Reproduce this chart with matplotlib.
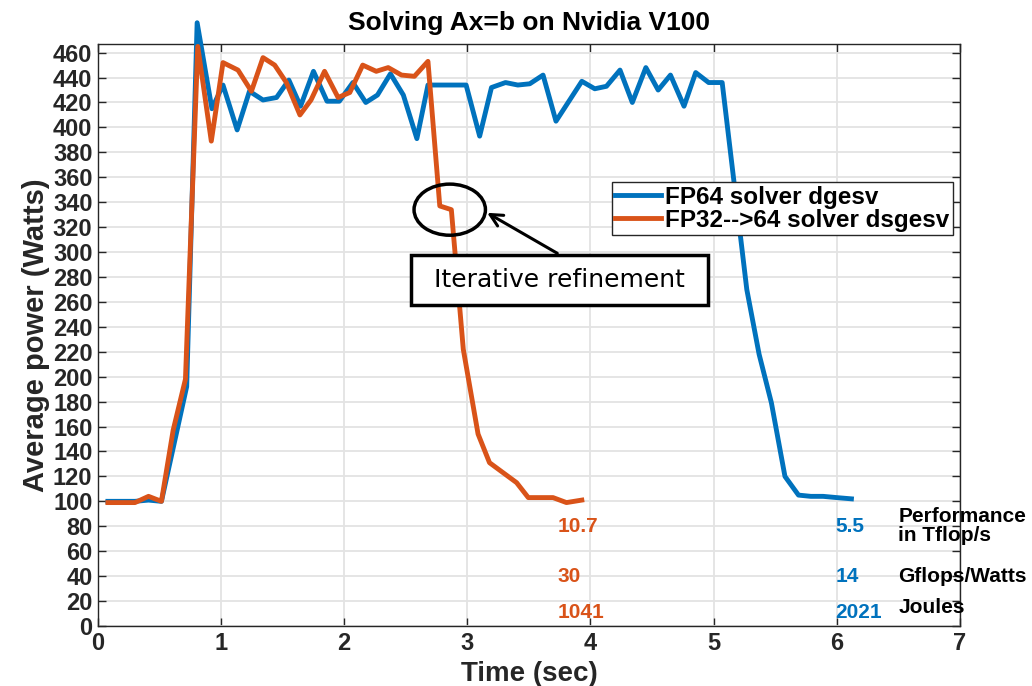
import numpy as np
import matplotlib.pyplot as plt
from matplotlib.patches import Ellipse, Rectangle

# FP64 solver dgesv (blue)
t_fp64 = [0.08, 0.30, 0.41, 0.515, 0.72, 0.805, 0.925, 1.015, 1.13, 1.23, 1.34, 1.45,
          1.55, 1.645, 1.75, 1.86, 1.96, 2.07, 2.175, 2.27, 2.375, 2.48, 2.59, 2.68,
          2.99, 3.10, 3.196, 3.31, 3.41, 3.507, 3.615, 3.72, 3.93, 4.035, 4.13, 4.24,
          4.34, 4.45, 4.55, 4.65, 4.76, 4.855, 4.96, 5.07, 5.27, 5.37, 5.47, 5.58,
          5.69, 5.79, 5.89, 6.0, 6.12]
p_fp64 = [100, 100, 101, 100, 192, 484, 415, 434, 398, 429, 422, 424,
          438, 417, 445, 421, 421, 436, 420, 426, 443, 426, 391, 434,
          434, 393, 432, 436, 434, 435, 442, 405, 437, 431, 433, 446,
          420, 448, 430, 442, 417, 444, 436, 436, 270, 218, 179, 120,
          105, 104, 104, 103, 102]

# FP32->64 solver dsgesv (orange)
t_mixed = [0.08, 0.30, 0.41, 0.515, 0.61, 0.71, 0.81, 0.92, 1.015, 1.137, 1.246, 1.34,
           1.435, 1.53, 1.64, 1.73, 1.84, 1.95, 2.045, 2.15, 2.26, 2.357, 2.465, 2.57,
           2.68, 2.776, 2.87, 2.967, 3.087, 3.18, 3.29, 3.40, 3.495, 3.60, 3.696,
           3.805, 3.93]
p_mixed = [99, 99, 104, 100, 157, 198, 465, 389, 452, 446, 429, 456,
           450, 436, 410, 422, 445, 424, 428, 450, 445, 448, 442, 441,
           453, 337, 334, 222, 154, 131, 123, 115, 103, 103, 103,
           99, 101]

# summary numbers: perf (Tflop/s), Gflops/Watt, Joules
stat_names = ['Performance\nin Tflop/s', 'Gflops/Watts', 'Joules']
stat_y = [80, 40, 11]
stat_name_y = [80, 40, 15]
stats_mixed = ['10.7', '30', '1041']
stats_fp64 = ['5.5', '14', '2021']

blue = '#0072BD'
orange = '#D95319'
dark = '#262626'

plt.rcParams['font.family'] = ['Liberation Sans', 'DejaVu Sans']
plt.rcParams['font.weight'] = 'bold'

fig = plt.figure(figsize=(10.32, 6.86), dpi=100)
ax = fig.add_axes([0.095, 0.0875, 0.835, 0.8485])

ax.plot(t_fp64, p_fp64, color=blue, lw=3.5, label='FP64 solver dgesv', clip_on=False, zorder=3)
ax.plot(t_mixed, p_mixed, color=orange, lw=3.5, label='FP32-->64 solver dsgesv', clip_on=False, zorder=4)

ax.set_xlim(0, 7)
ax.set_ylim(0, 467)
ax.set_xticks(np.arange(0, 8, 1))
ax.set_yticks(np.arange(0, 461, 20))
ax.grid(True, color='#e3e3e3', lw=1.3)
ax.set_axisbelow(True)
ax.tick_params(direction='in', length=6, width=1, colors=dark, labelsize=17,
               top=True, right=True, pad=4)
for lab in ax.get_xticklabels() + ax.get_yticklabels():
    lab.set_fontweight('bold')
for sp in ax.spines.values():
    sp.set_color(dark)
    sp.set_linewidth(1)

ax.set_xlabel('Time (sec)', fontsize=20, fontweight='bold', color=dark, labelpad=5)
ax.set_ylabel('Average power (Watts)', fontsize=21, fontweight='bold', color=dark, labelpad=2)
ax.set_title('Solving Ax=b on Nvidia V100', fontsize=19, fontweight='bold', pad=10)

leg = ax.legend(loc='upper left', bbox_to_anchor=(0.596, 0.763), fontsize=17.5,
                frameon=True, fancybox=False, framealpha=1, edgecolor=dark,
                borderpad=0.15, labelspacing=0.0, handlelength=1.9,
                handletextpad=0.15, borderaxespad=0)
leg.get_frame().set_linewidth(1)

# iterative refinement annotation
ax.add_patch(Ellipse((2.857, 334), 0.58, 41, fill=False, ec='black', lw=2.5, zorder=5))
ax.add_patch(Rectangle((2.546, 257.7), 2.409, 40.2, fill=True, fc='white', ec='black',
                       lw=2.5, zorder=5))
ax.text(3.75, 277.8, 'Iterative refinement', fontsize=18, fontweight='normal',
        family='DejaVu Sans', ha='center', va='center', zorder=6)
ax.annotate('', xy=(3.141, 332.6), xytext=(3.75, 297.9),
            arrowprops=dict(arrowstyle='->', lw=2.2, color='black', mutation_scale=22),
            zorder=5)

for v, yy in zip(stats_mixed, stat_y):
    ax.text(3.735, yy, v, color=orange, fontsize=15, fontweight='bold', ha='left', va='center')
for v, yy in zip(stats_fp64, stat_y):
    ax.text(5.99, yy, v, color=blue, fontsize=15, fontweight='bold', ha='left', va='center')
for name, yy in zip(stat_names, stat_name_y):
    ax.text(6.5, yy, name, color='black', fontsize=15, fontweight='bold', ha='left',
            va='center', linespacing=1.0, clip_on=False)

fig.savefig('out.png', dpi=100)
